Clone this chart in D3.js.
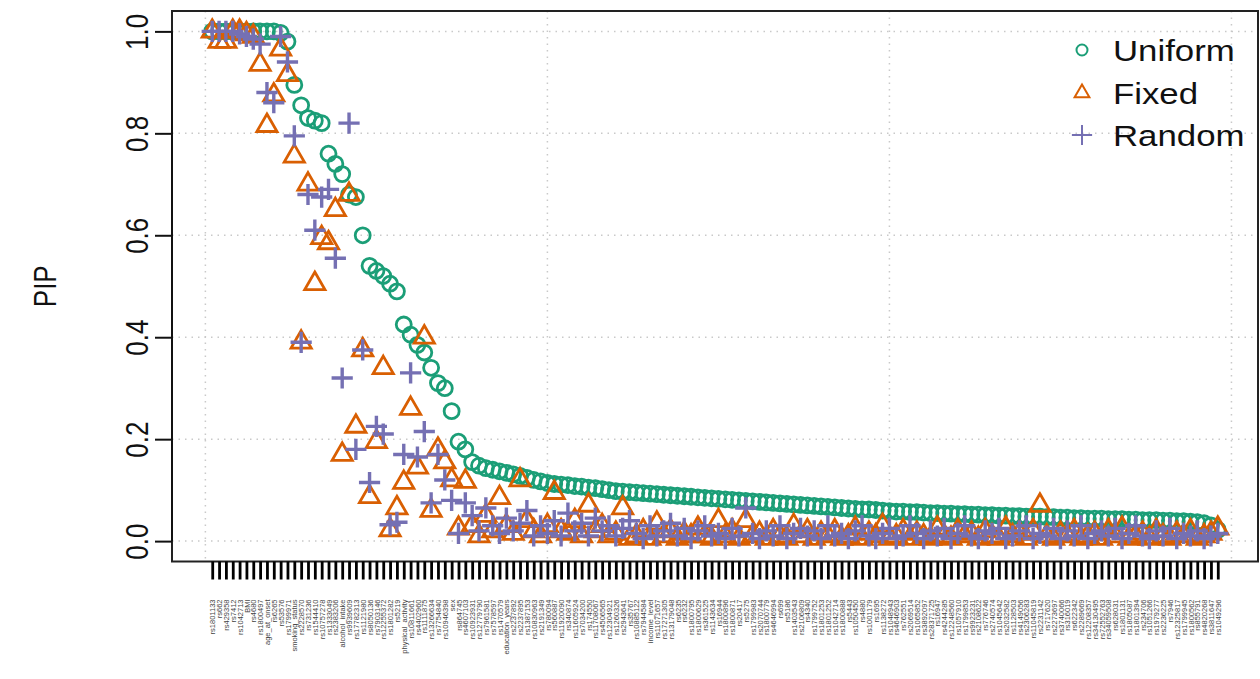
<!DOCTYPE html>
<html>
<head>
<meta charset="utf-8">
<script src="https://cdn.jsdelivr.net/npm/d3@7"></script>
<style>
  html, body { margin: 0; padding: 0; background: #fff; }
  svg { display: block; }
</style>
</head>
<body>
<svg id="chart" width="1260" height="679"></svg>
<script>
// ---------------- DATA ----------------
const seriesNames = ["Uniform", "Fixed", "Random"];

const uniform = [
  1.0, 1.0, 1.0, 1.0, 1.0, 1.0, 1.0, 1.0, 1.0, 1.0,
  0.997, 0.98, 0.895, 0.855, 0.83, 0.825, 0.82, 0.76, 0.74, 0.72,
  0.68, 0.675, 0.60, 0.54, 0.53, 0.52, 0.505, 0.49, 0.425, 0.405,
  0.385, 0.37, 0.34, 0.31, 0.30, 0.255, 0.195, 0.18, 0.155, 0.148,
  0.143, 0.14, 0.137, 0.134, 0.131, 0.128, 0.124, 0.12, 0.117, 0.114,
  0.112, 0.111, 0.11, 0.108, 0.107, 0.105, 0.104, 0.102, 0.1, 0.098,
  0.097, 0.096, 0.095, 0.094, 0.093, 0.092, 0.091, 0.09, 0.089, 0.088,
  0.087, 0.086, 0.085, 0.084, 0.083, 0.082, 0.081, 0.080, 0.079, 0.078,
  0.077, 0.076, 0.075, 0.074, 0.073, 0.072, 0.071, 0.070, 0.069, 0.068,
  0.067, 0.066, 0.065, 0.064, 0.063, 0.062, 0.062, 0.061, 0.060, 0.059,
  0.058, 0.058, 0.057, 0.057, 0.056, 0.055, 0.055, 0.054, 0.054, 0.053,
  0.053, 0.052, 0.052, 0.051, 0.051, 0.050, 0.050, 0.049, 0.049, 0.048,
  0.048, 0.048, 0.047, 0.047, 0.046, 0.046, 0.045, 0.045, 0.044, 0.044,
  0.044, 0.043, 0.043, 0.043, 0.042, 0.042, 0.041, 0.041, 0.041, 0.040,
  0.040, 0.039, 0.039, 0.038, 0.037, 0.035, 0.031, 0.022
];

const fixed = [
  1.0, 0.98, 0.98, 1.0, 1.0, 0.995, 0.99, 0.935, 0.815, 0.875,
  0.965, 0.915, 0.755, 0.39, 0.70, 0.505, 0.595, 0.585, 0.65, 0.17,
  0.68, 0.225, 0.375, 0.087, 0.195, 0.34, 0.022, 0.065, 0.115, 0.26,
  0.145, 0.40, 0.06, 0.18, 0.155, 0.12, 0.025, 0.117,
  0.03, 0.01, 0.05, 0.02, 0.085, 0.03, 0.015, 0.12, 0.04, 0.02,
  0.01, 0.03, 0.095, 0.02, 0.015, 0.04, 0.01, 0.07, 0.02, 0.03,
  0.01, 0.015, 0.065, 0.005, 0.01, 0.02, 0.005, 0.035, 0.01, 0.02,
  0.005, 0.015, 0.01, 0.025, 0.01, 0.005, 0.04, 0.01, 0.02, 0.005,
  0.04, 0.01, 0.015, 0.005, 0.02, 0.01, 0.005, 0.03, 0.01, 0.02,
  0.005, 0.015, 0.01, 0.02, 0.005, 0.01, 0.025, 0.005, 0.015, 0.01,
  0.03, 0.005, 0.01, 0.02, 0.005, 0.015, 0.01, 0.005, 0.025, 0.01,
  0.005, 0.02, 0.01, 0.015, 0.005, 0.02, 0.01, 0.005, 0.025, 0.01,
  0.015, 0.005, 0.02, 0.07, 0.01, 0.005, 0.015, 0.01, 0.02, 0.005,
  0.01, 0.015, 0.005, 0.02, 0.01, 0.025, 0.005, 0.01, 0.015, 0.005,
  0.02, 0.01, 0.005, 0.015, 0.01, 0.02, 0.005, 0.01, 0.015, 0.025
];

const random = [
  1.0, 1.0, 1.0, 1.0, 0.995, 0.99, 0.985, 0.975, 0.88, 0.86,
  0.99, 0.94, 0.795, 0.39, 0.68, 0.61, 0.675, 0.69, 0.555, 0.32,
  0.82, 0.18, 0.375, 0.115, 0.225, 0.21, 0.032, 0.037, 0.17, 0.33,
  0.165, 0.215, 0.075, 0.17, 0.12, 0.08, 0.015, 0.075,
  0.05, 0.02, 0.065, 0.03, 0.015, 0.045, 0.02, 0.035, 0.06, 0.01,
  0.03, 0.015, 0.04, 0.01, 0.055, 0.02, 0.035, 0.01, 0.045, 0.02,
  0.03, 0.01, 0.025, 0.04, 0.015, 0.005, 0.03, 0.01, 0.02, 0.035,
  0.01, 0.025, 0.005, 0.02, 0.03, 0.01, 0.015, 0.005, 0.025, 0.01,
  0.065, 0.015, 0.005, 0.02, 0.01, 0.03, 0.005, 0.015, 0.025, 0.01,
  0.02, 0.005, 0.03, 0.01, 0.015, 0.005, 0.02, 0.03, 0.01, 0.005,
  0.015, 0.025, 0.005, 0.01, 0.03, 0.015, 0.005, 0.02, 0.01, 0.025,
  0.005, 0.015, 0.03, 0.01, 0.005, 0.02, 0.015, 0.025, 0.005, 0.01,
  0.02, 0.03, 0.005, 0.015, 0.01, 0.025, 0.005, 0.02, 0.01, 0.03,
  0.005, 0.015, 0.02, 0.01, 0.025, 0.005, 0.015, 0.03, 0.01, 0.005,
  0.02, 0.01, 0.025, 0.005, 0.015, 0.01, 0.02, 0.005, 0.01, 0.015
];

const variableLabels = (
  "rs1801133 rs662 rs429358 rs7412 rs1042713 BMI rs4680 rs1800497 age_at_onset rs6265 " +
  "rs53576 rs1799971 smoking_status rs2228570 rs731236 rs1544410 rs10757278 rs1333049 rs2383206 alcohol_intake " +
  "rs9939609 rs17782313 rs1121980 rs8050136 rs7903146 rs12255372 rs1801282 rs5219 physical_activity rs10811661 " +
  "rs4402960 rs1111875 rs13266634 rs7754840 rs10946398 sex rs864745 rs4607103 rs10923931 rs12779790 " +
  "rs7961581 rs7578597 rs1470579 education_years rs2237892 rs2237895 rs1387153 rs10830963 rs2191349 rs780094 " +
  "rs560887 rs11920090 rs340874 rs11605924 rs7034200 rs174550 rs11708067 rs4506565 rs12304921 rs1260326 " +
  "rs2943641 rs35767 rs10885122 rs7944584 income_level rs11071657 rs17271305 rs13179048 rs6235 rs6232 " +
  "rs1800795 rs1800629 rs361525 rs1143634 rs16944 rs1800896 rs1800871 rs20417 rs5275 rs1799983 " +
  "rs2070744 rs1800779 rs4646994 rs699 rs5186 rs1403543 rs2106809 rs4340 rs1799752 rs1801253 " +
  "rs1801252 rs1042714 rs1800888 rs5443 rs1050450 rs4880 rs1001179 rs1695 rs1138272 rs1048943 " +
  "rs4646903 rs762551 rs2069514 rs1065852 rs3892097 rs28371725 rs16947 rs4244285 rs12248560 rs1057910 " +
  "rs1799853 rs9923231 rs2108622 rs776746 rs2740574 rs1045642 rs2032582 rs1128503 rs4149056 rs2306283 " +
  "rs11045819 rs2231142 rs717620 rs2273697 rs3740066 rs316019 rs622342 rs2289669 rs12208357 rs34130495 " +
  "rs72552763 rs34059508 rs628031 rs1801131 rs1805087 rs1801394 rs234706 rs1051266 rs1979277 rs2236225 " +
  "rs7946 rs12325817 rs1799945 rs1800562 rs855791 rs4820268 rs3811647 rs1049296"
).split(" ");

const yTicks = [0, 0.2, 0.4, 0.6, 0.8, 1.0];
const xGrid = [0, 50, 100, 150];
const yLabel = "PIP";

// ---------------- CHART ----------------
(function () {
const svg = d3.select("#chart");
const N = uniform.length;
const pLeft = 172, pRight = 1258, pTop = 11, pBottom = 561.5;

const x = d3.scaleLinear()
  .domain([1 - 0.04 * (N - 1), N + 0.04 * (N - 1)])
  .range([pLeft, pRight]);
const y = d3.scaleLinear()
  .domain([-0.04, 1.04])
  .range([pBottom, pTop]);

const colors = { Uniform: "#1B9E77", Fixed: "#D95F02", Random: "#7570B3" };

// grid
const grid = svg.append("g").attr("stroke", "#c9c9c9").attr("stroke-width", 1.5)
  .attr("stroke-dasharray", "1.5,5");
grid.selectAll("line.gx").data(xGrid).join("line")
  .attr("x1", d => x(d)).attr("x2", d => x(d))
  .attr("y1", pTop).attr("y2", pBottom);
grid.selectAll("line.gy").data(yTicks).join("line")
  .attr("x1", pLeft).attr("x2", pRight)
  .attr("y1", d => y(d)).attr("y2", d => y(d));

// symbols (R pch sizes)
const R = 7.5;
const triPath = (r) => {
  const rr = 1.5551 * r, xc = 1.3468 * r, yc = 0.7776 * r;
  return `M0,${-rr}L${xc},${yc}L${-xc},${yc}Z`;
};
const plusPath = (r) => {
  const h = Math.SQRT2 * r;
  return `M${-h},0H${h}M0,${-h}V${h}`;
};

const idx = d3.range(1, N + 1);

// Uniform circles
svg.append("g").selectAll("circle").data(idx).join("circle")
  .attr("cx", i => x(i)).attr("cy", i => y(uniform[i - 1]))
  .attr("r", R).attr("fill", "none")
  .attr("stroke", colors.Uniform).attr("stroke-width", 2.8);

// Fixed triangles
svg.append("g").selectAll("path").data(idx).join("path")
  .attr("transform", i => `translate(${x(i)},${y(fixed[i - 1])})`)
  .attr("d", triPath(R)).attr("fill", "none")
  .attr("stroke", colors.Fixed).attr("stroke-width", 2.8)
  .attr("stroke-linejoin", "miter");

// Random plus
svg.append("g").selectAll("path").data(idx).join("path")
  .attr("transform", i => `translate(${x(i)},${y(random[i - 1])})`)
  .attr("d", plusPath(R)).attr("fill", "none")
  .attr("stroke", colors.Random).attr("stroke-width", 3.4);

// box
svg.append("rect")
  .attr("x", pLeft).attr("y", pTop)
  .attr("width", pRight - pLeft).attr("height", pBottom - pTop)
  .attr("fill", "none").attr("stroke", "#222").attr("stroke-width", 2);

// y axis
const yAxis = svg.append("g")
  .attr("transform", `translate(${pLeft},0)`)
  .call(d3.axisLeft(y).tickValues(yTicks).tickFormat(d3.format(".1f")).tickSize(17));
yAxis.select(".domain").remove();
yAxis.selectAll(".tick line").attr("stroke", "#111").attr("stroke-width", 2);
yAxis.selectAll(".tick text")
  .attr("x", null).attr("dy", null)
  .attr("transform", "translate(-24,0) scale(1.2,1) rotate(-90)")
  .attr("text-anchor", "middle")
  .attr("font-family", "Liberation Sans, Arial, sans-serif")
  .attr("font-size", 26).attr("fill", "#111");
svg.append("line")
  .attr("x1", pLeft).attr("x2", pLeft)
  .attr("y1", y(0)).attr("y2", y(1))
  .attr("stroke", "#111").attr("stroke-width", 2);

// y label
svg.append("text")
  .attr("transform", `translate(56,${(y(0) + y(1)) / 2}) scale(1.2,1) rotate(-90)`)
  .attr("text-anchor", "middle")
  .attr("font-family", "Liberation Sans, Arial, sans-serif")
  .attr("font-size", 26).attr("fill", "#111")
  .text(yLabel);

// x axis
const xAxis = svg.append("g")
  .attr("transform", `translate(0,${pBottom})`)
  .call(d3.axisBottom(x).tickValues(idx).tickFormat(i => variableLabels[i - 1]).tickSize(18));
xAxis.select(".domain").remove();
xAxis.selectAll(".tick line").attr("stroke", "#000").attr("stroke-width", 2.8);
xAxis.selectAll(".tick text")
  .attr("y", null).attr("dy", null)
  .attr("transform", "rotate(-90)")
  .attr("x", -38).attr("y", 0).attr("dy", "0.35em")
  .attr("text-anchor", "end")
  .attr("font-family", "Liberation Sans, Arial, sans-serif")
  .attr("font-size", 7.5).attr("fill", "#444");

// legend
const legend = svg.append("g");
const legRows = [
  { name: seriesNames[0], cy: 50, shape: "circle" },
  { name: seriesNames[1], cy: 93, shape: "tri" },
  { name: seriesNames[2], cy: 135, shape: "plus" }
];
const lr = 5.5;
legRows.forEach(r => {
  const g = legend.append("g").attr("transform", `translate(1082,${r.cy})`);
  if (r.shape === "circle") {
    g.append("circle").attr("r", lr).attr("fill", "none")
      .attr("stroke", colors[r.name]).attr("stroke-width", 2);
  } else if (r.shape === "tri") {
    g.append("path").attr("d", triPath(lr)).attr("fill", "none")
      .attr("stroke", colors[r.name]).attr("stroke-width", 2);
  } else {
    g.append("path").attr("d", plusPath(lr * 1.3)).attr("fill", "none")
      .attr("stroke", colors[r.name]).attr("stroke-width", 2);
  }
  legend.append("text")
    .attr("transform", `translate(1113,${r.cy + 11}) scale(1.2,1)`)
    .attr("font-family", "Liberation Sans, Arial, sans-serif")
    .attr("font-size", 29).attr("fill", "#111")
    .text(r.name);
});
})();
</script>
</body>
</html>
